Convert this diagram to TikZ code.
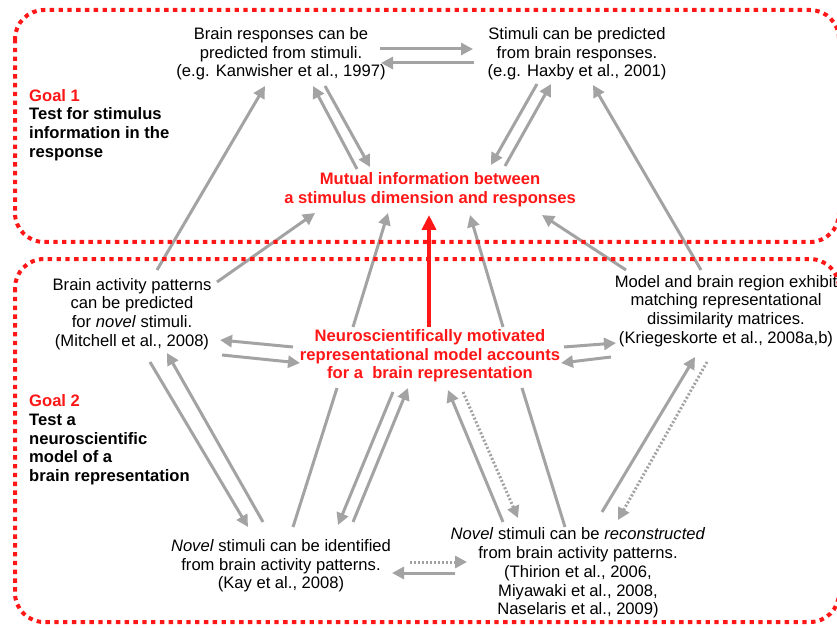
\documentclass[tikz,border=0pt]{standalone}
\usepackage{fontspec}
\setmainfont{Liberation Sans}
\usetikzlibrary{arrows.meta,calc}

\definecolor{goalred}{RGB}{255,22,22}
\definecolor{arrgray}{RGB}{163,163,163}

\tikzset{
  txt/.style={align=center, inner sep=0pt, font=\fontsize{16.6}{18.7}\selectfont},
  redtxt/.style={txt, text=goalred, font=\fontsize{16.6}{18.7}\selectfont\bfseries},
  goaltxt/.style={align=left, inner sep=0pt, anchor=west, font=\fontsize{16.6}{18.7}\selectfont\bfseries},
  arr/.style={draw=arrgray, line width=3pt, -{Triangle[length=12pt,width=12pt]}},
  darr/.style={arr, dash pattern=on 2pt off 2pt},
  gline/.style={draw=arrgray, line width=3pt},
  redarr/.style={draw=goalred, line width=4pt, -{Triangle[length=15pt,width=14pt]}},
  goalbox/.style={draw=goalred, line width=4pt, dash pattern=on 4.4pt off 4.4pt, rounded corners=29pt},
}

\begin{document}
\begin{tikzpicture}[x=1pt, y=-1pt]
        \useasboundingbox (0,0) rectangle (837,628);
        \clip (0,0) rectangle (837,628);
        % goal 1 texts
        \node [txt] (kan) at (281,54) {Brain responses can be\\predicted from stimuli.\\(e.g. Kanwisher et al., 1997)};
        \node [txt] (hax) at (577,54) {Stimuli can be predicted\\from brain responses.\\(e.g. Haxby et al., 2001)};
        \node [goaltxt] (goal1) at (29,125) {\textcolor{goalred}{Goal 1}\\Test for stimulus\\information in the\\response};
        \node [redtxt] (mut) at (430,190) {Mutual information between\\a stimulus dimension and responses};
        % goal 2 texts
        \node [txt] (mit) at (132,314) {Brain activity patterns\\can be predicted\\for \textit{novel} stimuli.\\(Mitchell et al., 2008)};
        \node [redtxt] (neu) at (430,356) {Neuroscientifically motivated\\representational model accounts\\for a~ brain representation};
        \node [txt] (kri) at (726,311) {Model and brain region exhibit\\matching representational\\dissimilarity matrices.\\(Kriegeskorte et al., 2008a,b)};
        \node [goaltxt] (goal2) at (29,440) {\textcolor{goalred}{Goal 2}\\Test a\\neuroscientific\\model of a\\brain representation};
        \node [txt] (kay) at (281,566) {\textit{Novel} stimuli can be identified\\from brain activity patterns.\\(Kay et al., 2008)};
        \node [txt] (rec) at (578,573) {\textit{Novel} stimuli can be \textit{reconstructed}\\from brain activity patterns.\\(Thirion et al., 2006,\\Miyawaki et al., 2008,\\Naselaris et al., 2009)};

        % top row
        \draw [arr] ($(kan)+(99,-5)$) -- ($(hax)+(-104,-5)$);
        \draw [arr] ($(hax)+(-103,9)$) -- ($(kan)+(100,9)$);
        \draw [arr] ($(kan)+(44,32)$) -- ($(mut)+(-60,-23)$);
        \draw [arr] ($(mut)+(-73,-21)$) -- ($(kan)+(32,32)$);
        \draw [arr] ($(hax)+(-40,30)$) -- ($(mut)+(61,-25)$);
        \draw [arr] ($(mut)+(75,-24)$) -- ($(hax)+(-26,30)$);
        % into goal 1
        \draw [arr] ($(mit)+(25,-44)$) -- ($(kan)+(-16,32)$);
        \draw [arr] ($(mit)+(85,-32)$) -- ($(mut)+(-115,23)$);
        \draw [arr] ($(neu)+(-77,-29)$) -- ($(mut)+(-42,23)$);
        \draw [arr] ($(neu)+(73,-29)$) -- ($(mut)+(40,25)$);
        \draw [arr] ($(kri)+(-100,-41)$) -- ($(mut)+(112,25)$);
        \draw [arr] ($(kri)+(-25,-41)$) -- ($(hax)+(16,31)$);
        \draw [redarr] ($(neu)+(-1,-29)$) -- ($(mut)+(-1,25)$);
        % middle row
        \draw [arr] ($(neu)+(-137,-9)$) -- ($(mit)+(88,26)$);
        \draw [arr] ($(mit)+(90,41)$) -- ($(neu)+(-130,7)$);
        \draw [arr] ($(neu)+(134,-9)$) -- ($(kri)+(-110,32)$);
        \draw [arr] ($(kri)+(-115,46)$) -- ($(neu)+(131,7)$);
        % down to goal 2 bottom
        \draw [arr] ($(mit)+(18,48)$) -- ($(kay)+(-33,-39)$);
        \draw [arr] ($(kay)+(-18,-44)$) -- ($(mit)+(35,39)$);
        \draw [gline] ($(neu)+(-93,32)$) -- ($(kay)+(12,-39)$);
        \draw [arr] ($(neu)+(-37,36)$) -- ($(kay)+(57,-41)$);
        \draw [arr] ($(kay)+(72,-44)$) -- ($(neu)+(-22,32)$);
        \draw [arr] ($(rec)+(-75,-51)$) -- ($(neu)+(18,34)$);
        \draw [darr] ($(neu)+(33,36)$) -- ($(rec)+(-60,-55)$);
        \draw [gline] ($(neu)+(92,32)$) -- ($(rec)+(-13,-46)$);
        \draw [arr] ($(rec)+(24,-61)$) -- ($(kri)+(-31,46)$);
        \draw [darr] ($(kri)+(-19,51)$) -- ($(rec)+(40,-53)$);
        % bottom row
        \draw [darr] ($(kay)+(129,-4)$) -- ($(rec)+(-111,-11)$);
        \draw [arr] ($(rec)+(-123,0)$) -- ($(kay)+(111,7)$);

        % goal boxes
        \draw [goalbox] (15,10) rectangle (839,242);
        \draw [goalbox] (15,259) rectangle (839,622);
\end{tikzpicture}
\end{document}
